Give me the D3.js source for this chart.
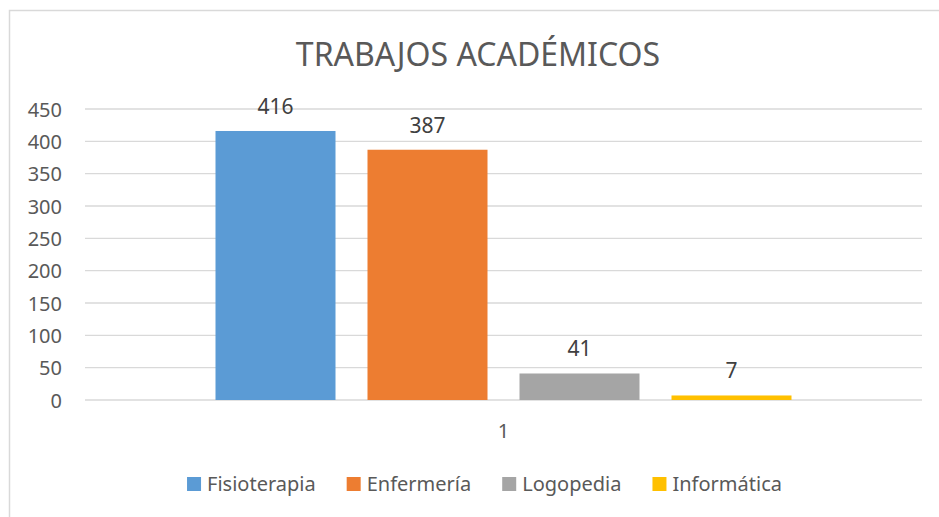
<!DOCTYPE html>
<html>
<head>
<meta charset="utf-8">
<script src="https://cdn.jsdelivr.net/npm/d3@7"></script>
<style>
  html, body { margin: 0; padding: 0; background: #fff; }
  svg { display: block; font-family: "Noto Sans", "Open Sans", sans-serif; }
</style>
</head>
<body>
<svg id="chart" width="939" height="517"></svg>
<script>
const title = "TRABAJOS ACADÉMICOS";
const categories = ["1"];
const seriesNames = ["Fisioterapia", "Enfermería", "Logopedia", "Informática"];
const seriesValues = [416, 387, 41, 7];
const seriesColors = ["#5B9BD5", "#ED7D31", "#A5A5A5", "#FFC000"];
const yTicks = [0, 50, 100, 150, 200, 250, 300, 350, 400, 450];

const svg = d3.select("#chart");
const plot = { left: 85, right: 922, top: 109, bottom: 400 };

// chart border
svg.append("rect")
  .attr("x", 9.5).attr("y", 10.5)
  .attr("width", 1000).attr("height", 600)
  .attr("fill", "#fff").attr("stroke", "#d9d9d9").attr("stroke-width", 1.5);

// title
svg.append("text")
  .attr("x", 478).attr("y", 66)
  .attr("text-anchor", "middle")
  .attr("font-size", 32)
  .attr("fill", "#595959")
  .text(title);

const y = d3.scaleLinear().domain([0, 450]).range([plot.bottom, plot.top]);
const x0 = d3.scaleBand().domain(categories).range([plot.left, plot.right]).paddingInner(0).paddingOuter(0);

// gridlines
svg.append("g").selectAll("line").data(yTicks).join("line")
  .attr("x1", plot.left).attr("x2", plot.right)
  .attr("y1", d => y(d)).attr("y2", d => y(d))
  .attr("stroke", "#d9d9d9").attr("stroke-width", 1.3);

// y axis labels
const yAxis = d3.axisLeft(y).tickValues(yTicks).tickSize(0).tickPadding(0);
const gy = svg.append("g").attr("transform", `translate(62,0)`).call(yAxis);
gy.select(".domain").remove();
gy.selectAll("text")
  .attr("font-size", 20)
  .attr("font-family", "Noto Sans, Open Sans, sans-serif")
  .attr("fill", "#595959")
  .attr("dy", "0.35em");

// bars: group of 4 within category band
const catW = x0.bandwidth();
const barW = 120, barGap = 32;
const groupW = seriesNames.length * barW + (seriesNames.length - 1) * barGap;
const x1 = d3.scaleBand().domain(seriesNames)
  .range([(catW - groupW) / 2, (catW + groupW) / 2])
  .paddingInner(barGap / (barW + barGap)).paddingOuter(0);

const barData = seriesNames.map((n, i) => ({ name: n, value: seriesValues[i], color: seriesColors[i] }));
const gBars = svg.append("g").attr("transform", `translate(${x0(categories[0])},0)`);
gBars.selectAll("rect").data(barData).join("rect")
  .attr("x", d => x1(d.name))
  .attr("width", x1.bandwidth())
  .attr("y", d => y(d.value))
  .attr("height", d => y(0) - y(d.value))
  .attr("fill", d => d.color);

gBars.selectAll("text.val").data(barData).join("text")
  .attr("class", "val")
  .attr("x", d => x1(d.name) + x1.bandwidth() / 2)
  .attr("y", d => y(d.value) - 17)
  .attr("text-anchor", "middle")
  .attr("font-size", 21)
  .attr("fill", "#404040")
  .text(d => d.value);

// category axis label
svg.append("g").selectAll("text").data(categories).join("text")
  .attr("x", d => x0(d) + catW / 2)
  .attr("y", 438)
  .attr("text-anchor", "middle")
  .attr("font-size", 20)
  .attr("fill", "#595959")
  .text(d => d);

// legend
const legend = svg.append("g");
const items = legend.selectAll("g").data(barData).join("g");
items.append("rect").attr("width", 14).attr("height", 14).attr("y", 477).attr("fill", d => d.color);
items.append("text").attr("x", 20).attr("y", 491)
  .attr("font-size", 20).attr("fill", "#595959").text(d => d.name);
let widths = [];
items.each(function() { widths.push(20 + d3.select(this).select("text").node().getComputedTextLength()); });
const gap = 31;
const total = d3.sum(widths) + gap * (widths.length - 1);
let cx = 484.5 - total / 2;
items.attr("transform", (d, i) => { const t = `translate(${cx},0)`; cx += widths[i] + gap; return t; });
</script>
</body>
</html>
